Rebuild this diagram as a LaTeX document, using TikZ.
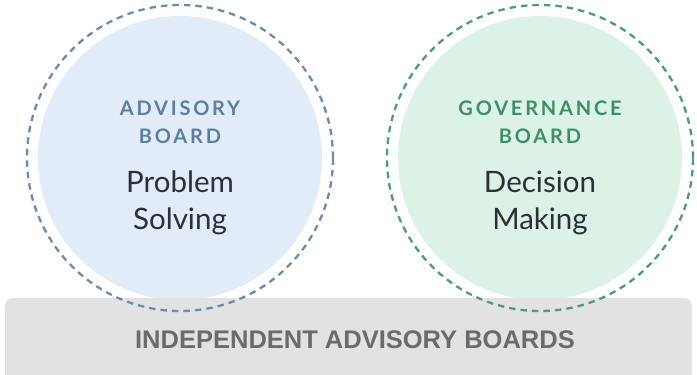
\documentclass[tikz,border=0pt]{standalone}
\usepackage{fontspec}
\setmainfont{Lato}
\newfontfamily\headfont[LetterSpace=14]{Lato}
\newfontfamily\boxfont{Liberation Sans}
\definecolor{bluefill}{HTML}{E1ECF8}
\definecolor{bluedash}{HTML}{6A8DAD}
\definecolor{bluetext}{HTML}{5A7FA2}
\definecolor{greenfill}{HTML}{DCF2E7}
\definecolor{greendash}{HTML}{4C9C78}
\definecolor{greentext}{HTML}{3E8E68}
\definecolor{darktext}{HTML}{2B2F38}
\definecolor{boxgray}{HTML}{E3E2E3}
\definecolor{boxtext}{HTML}{6D6A6A}
\tikzset{
  x=1pt, y=1pt,
  fillcirc/.style={circle, minimum size=284pt, inner sep=0pt},
  dashcirc/.style={circle, minimum size=306pt, inner sep=0pt, line width=2.3pt, dash pattern=on 6.5pt off 5pt},
  headtxt/.style={font=\headfont\bfseries\fontsize{20}{28}\selectfont, align=center},
  maintxt/.style={font=\fontsize{29.5}{36.5}\selectfont, text=darktext, align=center},
  basebox/.style={fill=boxgray, rounded corners=8pt, inner sep=0pt},
}
\begin{document}
\begin{tikzpicture}
\useasboundingbox (0,0) rectangle (697,375);
\fill[white] (0,0) rectangle (697,375);
% fills
\node[fillcirc, fill=bluefill] (lfill) at (180,217) {};
\node[fillcirc, fill=greenfill] (rfill) at (540,217) {};
% base box
\node[basebox, minimum width=687pt, minimum height=85pt] (base) at (348.5,34.5) {};
\node[font=\boxfont\bfseries\fontsize{25.5}{30}\selectfont, text=boxtext] (basetxt) at (355,35) {INDEPENDENT ADVISORY BOARDS};
% dashed circles
\node[dashcirc, draw=bluedash] (ldash) at (180,217) {};
\node[dashcirc, draw=greendash] (rdash) at (540,217) {};
% texts
\node[headtxt, text=bluetext] (lhead) at (180,253) {ADVISORY\\BOARD};
\node[maintxt] (lmain) at (180,172) {Problem\\Solving};
\node[headtxt, text=greentext] (rhead) at (540,253) {GOVERNANCE\\BOARD};
\node[maintxt] (rmain) at (540,172) {Decision\\Making};
\end{tikzpicture}
\end{document}
